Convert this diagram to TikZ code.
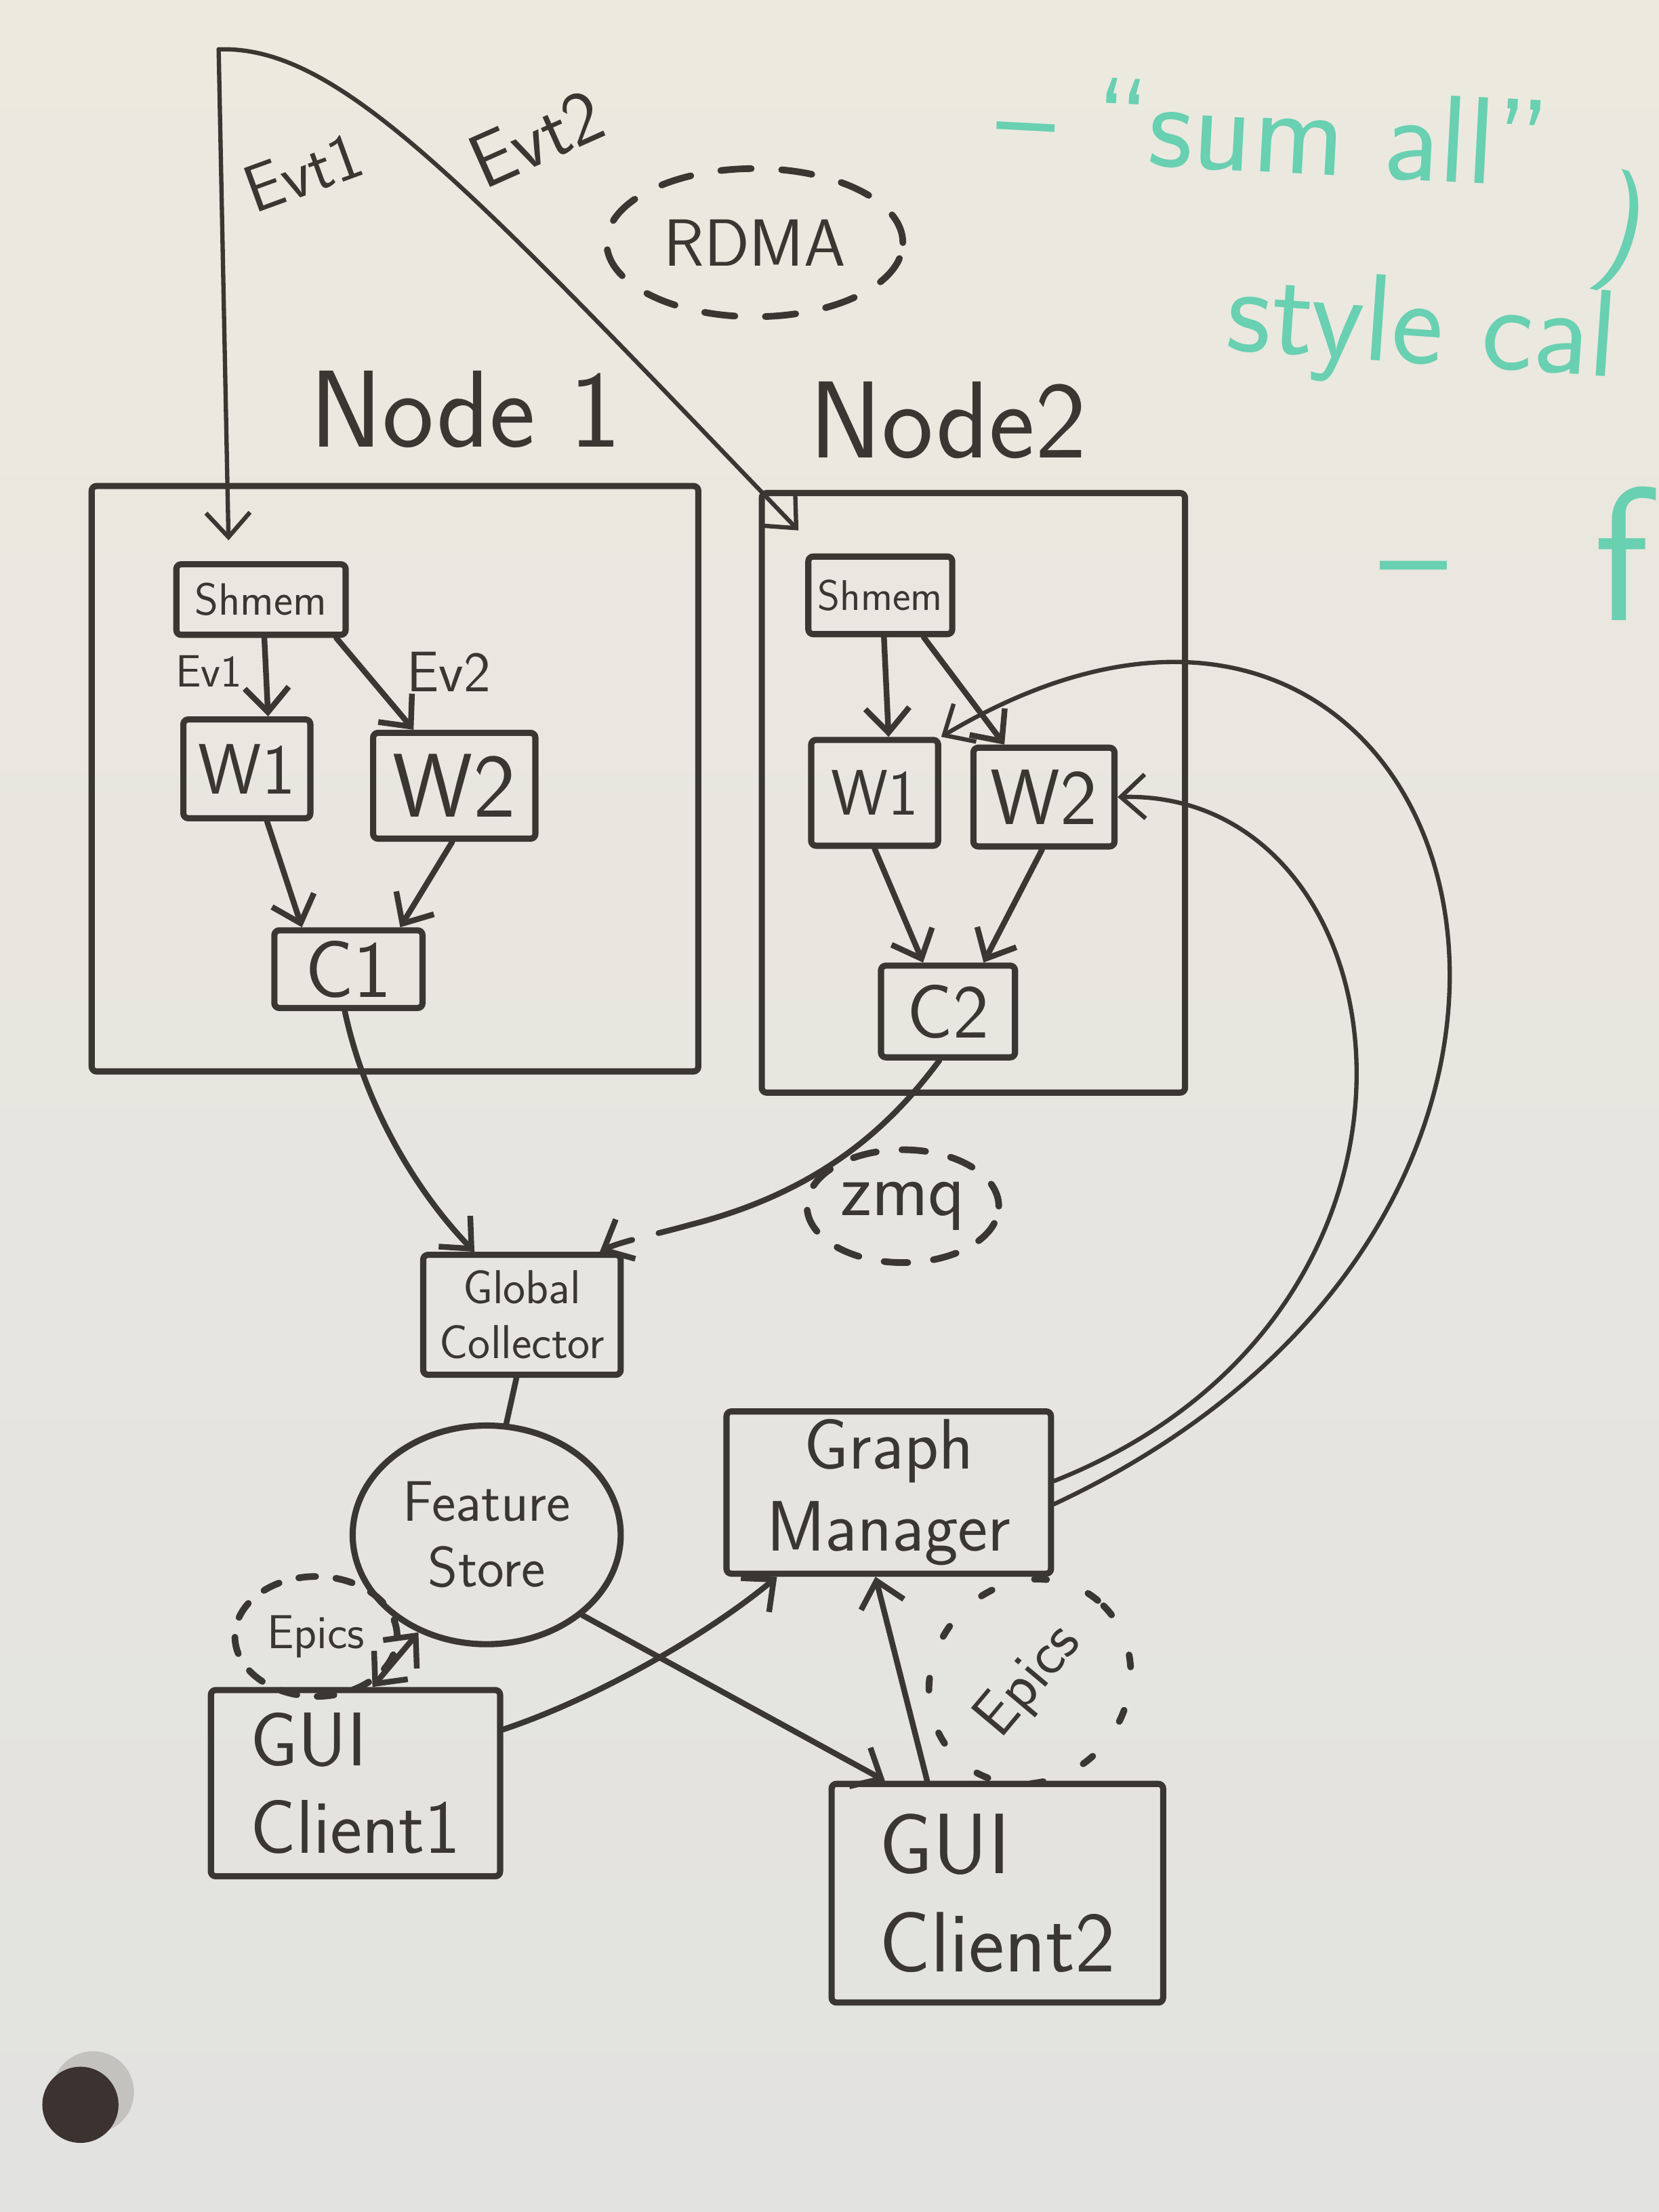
\documentclass[tikz,border=0pt]{standalone}
\usepackage{tikz}
\usetikzlibrary{arrows.meta, shapes.geometric}

\definecolor{ink}{RGB}{58,54,50}
\definecolor{mint}{RGB}{105,208,178}
\definecolor{boardtop}{RGB}{236,233,223}
\definecolor{boardbottom}{RGB}{226,226,224}
\definecolor{steel}{RGB}{196,194,190}
\definecolor{magnet}{RGB}{60,50,48}

\newlength{\pxu}
\setlength{\pxu}{0.2082mm}

\begin{document}
\begin{tikzpicture}[%
        x = 0.2082mm,
        y = -0.2082mm,
        > = {Straight Barb[length = 3.6mm, width = 6.5mm]},
        line cap = round,
        line join = round,
        sz/.style = {font = {\sffamily\fontsize{#1}{#1}\selectfont\setlength{\baselineskip}{1.15em}}},
        box/.style = {draw = ink, line width = 2.6pt, rounded corners = 2pt, inner sep = 0pt, text = ink},
        flow/.style = {draw = ink, line width = 2.4pt, ->},
        wire/.style = {draw = ink, line width = 1.8pt},
        cloud/.style = {draw = ink, line width = 2.8pt, ellipse, inner sep = 0pt, text = ink, dash pattern = #1},
        cloud/.default = {on 4.5mm off 4.5mm},
        hand/.style = {text = ink, inner sep = 0pt},
        note/.style = {text = mint, inner sep = 0pt, anchor = base west}
    ]

        % Whiteboard.
        \shade[top color = boardtop, bottom color = boardbottom] (0,0) rectangle (1176,1568);
        \useasboundingbox (0,0) rectangle (1176,1568);
        \clip (0,0) rectangle (1176,1568);

        % Magnet holding the board.
        \fill[steel] (66,1483) circle (29);
        \fill[magnet] (57,1492) circle (27);

        % coordinates where the event stream starts and lands, and where zmq breaks up.
        \coordinate (src) at (155,35);
        \coordinate (in1) at (162,383);
        \coordinate (in2) at (566,376);
        \coordinate (gap) at (490,868);

        % The two compute nodes.
        \node[box, minimum width = 430*\pxu, minimum height = 415*\pxu] (node1) at (280,552) {};
        \node[box, minimum width = 300*\pxu, minimum height = 425*\pxu] (node2) at (690,562) {};
        \node[hand, sz = 46] (node1name) at (330,290) {Node 1};
        \node[hand, sz = 46] (node2name) at (672,298) {Node2};

        % Event stream.
        \node[hand, sz = 28, rotate = 20] (evt1) at (215,122) {Evt1};
        \node[hand, sz = 32, rotate = 24] (evt2) at (380,98) {Evt2};
        \node[cloud, sz = 28, minimum width = 210*\pxu, minimum height = 105*\pxu] (rdma) at (535,172) {RDMA};
        \draw[wire, ->] (src) -- (in1);
        \draw[wire, ->] (src) .. controls (240,32) and (330,130) .. (in2);

        % Inside node 1.
        \node[box, sz = 19, minimum width = 120*\pxu, minimum height = 50*\pxu] (shm1) at (185,425) {Shmem};
        \node[box, sz = 30, minimum width = 90*\pxu, minimum height = 70*\pxu] (w11) at (175,545) {W1};
        \node[box, sz = 38, minimum width = 115*\pxu, minimum height = 75*\pxu] (w12) at (322,557) {W2};
        \node[box, sz = 34, minimum width = 105*\pxu, minimum height = 55*\pxu] (c1) at (247,687) {C1};
        \node[hand, sz = 19] (ev1) at (148,476) {Ev1};
        \node[hand, sz = 24] (ev2) at (318,476) {Ev2};
        \draw[flow] (shm1.-85) -- (w11.68);
        \draw[flow] (shm1.-27) -- (w12.126);
        \draw[flow] (w11.-69) -- (c1.138);
        \draw[flow] (w12.-92) -- (c1.39);

        % Inside node 2.
        \node[box, sz = 18, minimum width = 102*\pxu, minimum height = 55*\pxu] (shm2) at (624,422) {Shmem};
        \node[box, sz = 27, minimum width = 90*\pxu, minimum height = 75*\pxu] (w21) at (620,562) {W1};
        \node[box, sz = 33, minimum width = 100*\pxu, minimum height = 70*\pxu] (w22) at (740,565) {W2};
        \node[box, sz = 32, minimum width = 95*\pxu, minimum height = 65*\pxu] (c2) at (672,717) {C2};
        \draw[flow] (shm2.-85) -- (w21.76);
        \draw[flow] (shm2.-44) -- (w22.127);
        \draw[flow] (w21.-90) -- (c2.117);
        \draw[flow] (w22.-92) -- (c2.54);

        % Collection and storage.
        \node[box, sz = 20, align = center, minimum width = 140*\pxu, minimum height = 85*\pxu] (glob) at (370,932) {Global\\Collector};
        \node[box, ellipse, sz = 24, align = center, minimum width = 190*\pxu, minimum height = 155*\pxu] (fstore) at (345,1088) {Feature\\Store};
        \node[cloud = {on 3.5mm off 3.8mm}, sz = 32, minimum width = 136*\pxu, minimum height = 80*\pxu] (zmq) at (640,855) {zmq};
        \draw[flow] (c1.-95) .. controls (260,790) and (300,850) .. (glob.127);
        \draw[flow, -] (c2.-100) .. controls (630,800) and (580,845) .. (gap);
        \draw[flow, dash pattern = on 5mm off 4mm] (gap) .. controls (465,875) and (440,880) .. (glob.39);
        \draw[flow, -] (glob.-95) -- (fstore.80);

        % Graph manager and its feedback to the workers.
        \node[box, sz = 30, align = center, minimum width = 230*\pxu, minimum height = 115*\pxu] (gm) at (630,1058) {Graph\\Manager};
        \draw[wire, ->] (gm.-4) .. controls (1210,850) and (1040,300) .. (w21.north east);
        \draw[wire, ->] (gm.4) .. controls (1050,930) and (1000,560) .. (w22.east);

        % GUI clients.
        \node[box, sz = 32, align = left, minimum width = 205*\pxu, minimum height = 132*\pxu] (gui1) at (252,1264) {GUI\\Client1};
        \node[box, sz = 36, align = left, minimum width = 235*\pxu, minimum height = 155*\pxu] (gui2) at (707,1342) {GUI\\Client2};
        \node[cloud = {on 2.5mm off 3mm}, sz = 20, minimum width = 115*\pxu, minimum height = 85*\pxu] (epics1) at (224,1160) {Epics};
        \node[cloud = {on 1.8mm off 6.5mm}, sz = 26, rotate = 50, minimum width = 150*\pxu, minimum height = 138*\pxu] (epics2) at (730,1192) {Epics};
        \draw[flow, <->] (fstore.-125) -- (gui1.80);
        \draw[flow] (fstore.-40) -- (gui2.135);
        \draw[flow] (gui1.20) .. controls (420,1205) and (500,1160) .. (gm.-143);
        \draw[flow] (gui2.122) -- (gm.-99);

        % Notes in green marker.
        \begin{scope}[sz = 52]
            \node[note, rotate = -3] (sumall) at (705,112) {– “sum all”};
            \node[note, rotate = -15] (paren) at (1128,182) {)};
            \node[note, sz = 52, rotate = -4] (stylecal) at (868,248) {style cal};
            \node[note, sz = 60] (dashf) at (978,428) {–};
            \node[note, sz = 80] (fword) at (1130,440) {f};
        \end{scope}
    \end{tikzpicture}
\end{document}
